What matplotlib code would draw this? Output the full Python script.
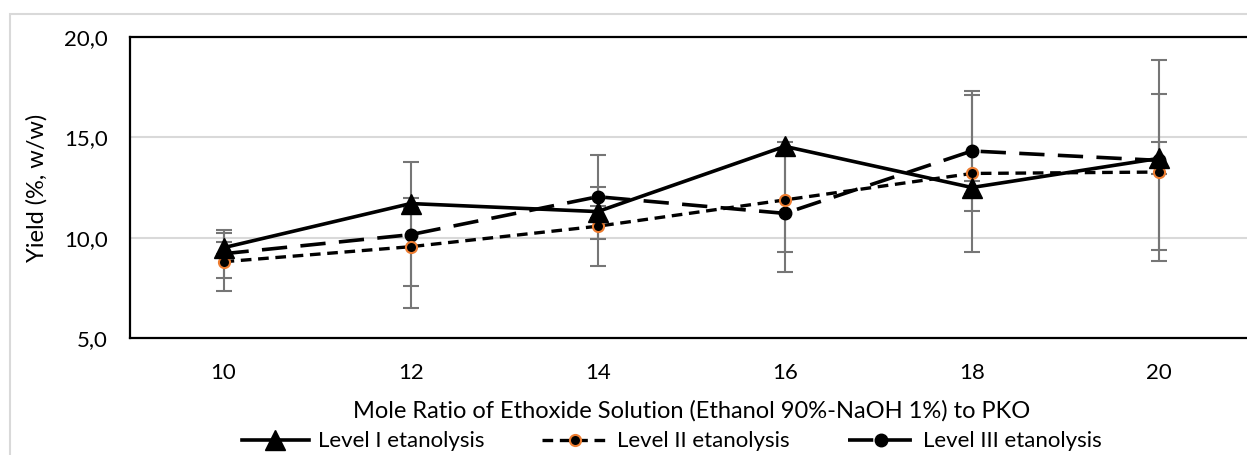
import numpy as np
import matplotlib.pyplot as plt
from matplotlib.patches import Rectangle

# mole ratio categories
ratios = ["10", "12", "14", "16", "18", "20"]

level1 = [9.5, 11.7, 11.3, 14.55, 12.5, 13.95]
level1_err = [0.3, 0.3, 0.3, 0.2, 0.3, 0.8]

level2 = [8.8, 9.55, 10.57, 11.88, 13.2, 13.27]
level2_err = [1.44, 1.94, 1.96, 2.61, 3.9, 3.87]

level3 = [9.2, 10.15, 12.04, 11.21, 14.32, 13.85]
level3_err = [1.19, 3.64, 2.09, 2.9, 2.97, 5.02]

yticks = [5, 10, 15, 20]

plt.rcParams['font.family'] = ['Lato', 'DejaVu Sans']

fig = plt.figure(figsize=(12.47, 4.55), dpi=100)
fig.patches.append(Rectangle((10 / 1247, -0.1), 1.5, 1 - 14 / 455 + 0.1,
                             transform=fig.transFigure, fill=False,
                             edgecolor='#D9D9D9', linewidth=1.5))

ax = fig.add_axes([130 / 1247, 1 - 338 / 455, 1122.5 / 1247, 301 / 455])
x = np.arange(len(ratios))

err_kw = dict(fmt='none', ecolor='#767676', elinewidth=1.5, capsize=6,
              capthick=1.5, zorder=2)
ax.errorbar(x, level1, yerr=level1_err, **err_kw)
ax.errorbar(x, level2, yerr=level2_err, **err_kw)
ax.errorbar(x, level3, yerr=level3_err, **err_kw)

ax.plot(x, level3, color='black', linewidth=2.6, dashes=(7, 3.7),
        marker='o', markersize=9, markerfacecolor='black',
        markeredgecolor='black', zorder=3, label='Level III etanolysis')
ax.plot(x, level2, color='black', linewidth=2.4, dashes=(3.2, 2.0),
        marker='o', markersize=8, markerfacecolor='black',
        markeredgecolor='#ED7D31', markeredgewidth=1.5, zorder=4,
        label='Level II etanolysis')
ax.plot(x, level1, color='black', linewidth=2.6, linestyle='-',
        marker='^', markersize=14, markerfacecolor='black',
        markeredgecolor='black', zorder=5, label='Level I etanolysis')

ax.set_xlim(-0.5, len(ratios) - 0.5)
ax.set_ylim(5, 20)
ax.set_xticks(x)
ax.set_xticklabels(ratios)
ax.set_yticks(yticks)
ax.set_yticklabels([f"{v:.1f}".replace('.', ',') for v in yticks])
ax.tick_params(length=0, labelsize=16, colors='black', pad=18)
ax.tick_params(axis='y', pad=16)

for v in yticks[1:-1]:
    ax.axhline(v, color='#D9D9D9', linewidth=1.5, zorder=1)

for side in ['left', 'top', 'bottom']:
    ax.spines[side].set_linewidth(1.6)
    ax.spines[side].set_color('black')
ax.spines['right'].set_visible(False)

ax.set_xlabel("Mole Ratio of Ethoxide Solution (Ethanol 90%-NaOH 1%) to PKO",
              fontsize=17, labelpad=12)
ax.set_ylabel("Yield (%, w/w)", fontsize=17, labelpad=12)

handles, labels = ax.get_legend_handles_labels()
order = [2, 1, 0]
fig.legend([handles[i] for i in order], [labels[i] for i in order],
           loc='center', bbox_to_anchor=(0.539, 0.03), ncol=3, frameon=False,
           fontsize=16, handlelength=3.0, columnspacing=2.6, handletextpad=0.4,
           borderpad=0.2)

fig.savefig("out.png", dpi=100)
